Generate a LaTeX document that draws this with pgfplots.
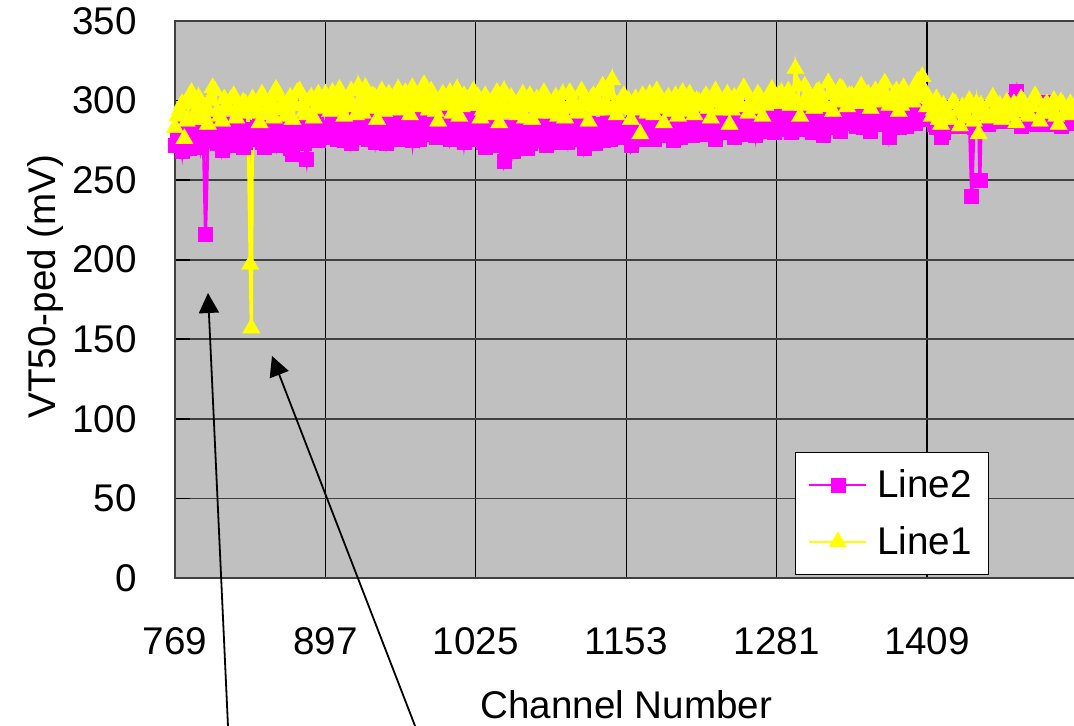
\documentclass[border=0pt]{standalone}
\usepackage{fontspec}
\setmainfont{Liberation Sans}
\usepackage{pgfplots}
\pgfplotsset{compat=1.18}
\usepackage{pgfplotstable}
\usetikzlibrary{arrows.meta}
\definecolor{bg}{RGB}{192,192,192}
\definecolor{mag}{RGB}{255,0,255}
\definecolor{yel}{RGB}{255,255,0}

% columns: channel, Line2, Line1
\pgfplotstableread{
x a b
769 272 283
771 277 290
773 279 294
775 268 298
777 283 276
779 281 287
781 270 299
783 274 305
785 276 288
787 279 293
789 284 302
791 271 289
793 281 291
795 216 296
797 275 285
799 283 300
801 286 308
803 277 306
805 273 293
807 282 290
809 269 287
811 276 301
813 280 297
815 272 294
817 285 301
819 280 303
821 277 289
823 286 292
825 282 295
827 271 299
829 274 298
831 279 293
833 280 197
834 282 157
835 277 301
837 276 292
839 283 295
841 285 286
843 274 304
845 271 300
847 280 291
849 283 296
851 286 299
853 278 289
855 272 307
857 287 303
859 279 296
861 274 294
863 284 290
865 281 299
867 270 302
869 266 288
871 276 297
873 279 305
875 282 306
877 284 297
879 273 293
881 263 291
883 279 300
885 276 302
887 285 289
889 288 295
891 275 304
893 280 300
895 281 296
897 283 304
899 279 299
901 277 293
903 286 305
905 290 298
907 276 294
909 281 307
911 284 302
913 275 290
915 280 297
917 286 301
919 273 306
921 279 296
923 288 291
925 284 309
927 281 300
929 291 292
931 277 308
933 276 299
935 285 295
937 282 303
939 274 302
941 288 288
943 283 298
945 280 306
947 287 293
949 273 297
951 279 304
953 285 301
955 282 299
957 289 294
959 276 307
961 282 299
963 286 295
965 278 305
967 280 301
969 287 291
971 275 308
973 292 302
975 284 296
977 276 297
979 288 303
981 284 310
983 279 299
985 289 294
987 283 306
989 280 300
991 277 293
993 286 287
995 290 301
997 279 304
999 282 297
1001 291 298
1003 276 305
1005 283 292
1007 286 299
1009 277 307
1011 281 290
1013 288 296
1015 274 303
1017 285 301
1019 289 298
1021 281 303
1023 279 306
1025 276 297
1027 281 302
1029 283 289
1031 274 294
1033 271 303
1035 285 299
1037 279 295
1039 272 291
1041 286 300
1043 280 305
1045 273 286
1047 277 297
1049 262 306
1051 269 292
1053 280 293
1055 283 302
1057 268 298
1059 275 296
1061 284 291
1063 279 300
1065 277 304
1067 284 289
1069 270 296
1071 273 303
1073 282 288
1075 280 297
1077 275 301
1079 276 292
1081 287 295
1083 282 305
1085 272 299
1087 278 294
1089 279 292
1091 283 298
1093 285 302
1095 277 290
1097 274 296
1099 286 304
1101 281 289
1103 274 295
1105 288 305
1107 282 300
1109 276 298
1111 279 292
1113 283 293
1115 287 306
1117 270 300
1119 276 297
1121 286 287
1123 281 301
1125 278 303
1127 273 294
1129 284 297
1131 285 306
1133 275 309
1135 280 299
1137 289 294
1139 276 304
1141 280 313
1143 284 297
1145 277 291
1147 282 295
1149 285 301
1151 278 303
1153 282 295
1155 285 300
1157 272 288
1159 279 294
1161 287 301
1163 283 297
1165 279 279
1167 276 303
1169 284 297
1171 287 292
1173 290 304
1175 281 300
1177 276 291
1179 285 306
1181 283 299
1183 278 295
1185 288 286
1187 283 300
1189 280 302
1191 286 293
1193 275 296
1195 280 303
1197 286 290
1199 277 298
1201 281 305
1203 285 296
1205 289 293
1207 282 304
1209 278 298
1211 288 291
1213 284 300
1215 279 299
1217 286 297
1219 282 301
1221 280 303
1223 288 295
1225 291 289
1227 279 299
1229 276 306
1231 285 303
1233 284 294
1235 280 296
1237 288 300
1239 286 304
1241 282 285
1243 283 294
1245 277 302
1247 289 300
1249 290 298
1251 281 296
1253 285 308
1255 287 305
1257 279 292
1259 284 299
1261 287 299
1263 278 295
1265 292 304
1267 286 302
1269 283 290
1271 290 297
1273 281 301
1275 284 303
1277 289 307
1279 280 298
1281 284 299
1283 288 303
1285 290 305
1287 282 298
1289 287 302
1291 289 306
1293 280 297
1295 285 301
1297 293 320
1299 283 309
1301 286 290
1303 291 297
1305 282 309
1307 285 303
1309 289 300
1311 280 299
1313 284 295
1315 287 305
1317 291 306
1319 284 300
1321 278 298
1323 290 296
1325 288 311
1327 283 304
1329 294 293
1331 288 299
1333 285 302
1335 281 308
1337 290 307
1339 292 301
1341 287 296
1343 286 303
1345 289 303
1347 286 300
1349 284 298
1351 290 305
1353 292 309
1355 283 298
1357 287 301
1359 288 304
1361 281 295
1363 291 301
1365 295 306
1367 285 299
1369 290 300
1371 289 307
1373 286 311
1375 292 302
1377 277 297
1379 284 300
1381 288 304
1383 290 306
1385 283 293
1387 287 297
1389 296 308
1391 284 305
1393 291 302
1395 293 300
1397 289 299
1399 286 308
1401 294 312
1403 290 303
1405 292 315
1407 294 306
1409 288 296
1411 292 301
1413 293 290
1415 285 294
1417 283 301
1419 290 288
1421 277 285
1423 280 297
1425 291 293
1427 288 291
1429 286 288
1431 293 299
1433 294 298
1435 284 293
1437 289 284
1439 291 296
1441 284 292
1443 287 289
1445 290 300
1447 240 295
1449 283 287
1451 291 298
1453 288 279
1454 250 291
1455 286 297
1457 292 294
1459 289 292
1461 285 289
1463 294 299
1465 296 302
1467 287 295
1469 289 291
1471 292 297
1473 291 288
1475 289 295
1477 287 299
1479 293 290
1481 297 293
1483 300 298
1485 306 286
1487 290 293
1489 284 301
1491 287 299
1493 290 295
1495 293 291
1497 286 290
1499 289 296
1501 293 303
1503 285 300
1505 288 287
1507 294 292
1509 299 296
1511 290 298
1513 285 292
1515 287 294
1517 292 300
1519 295 290
1521 289 285
1523 284 299
1525 295 297
1527 292 293
1529 287 291
1531 286 298
1533 291 294
1535 290 295
}\chdata

\begin{document}
\begin{tikzpicture}[font=\fontsize{19.3pt}{23pt}\selectfont]
\begin{axis}[
  scale only axis,
  width=451.2pt, height=278.5pt,
  xmin=769, xmax=1537, ymin=0, ymax=350,
  clip=false,
  xtick={769,897,1025,1153,1281,1409},
  ytick={0,50,100,150,200,250,300,350},
  /pgf/number format/assume math mode=true,
  /pgf/number format/1000 sep={},
  tick pos=left,
  major tick length=7.5pt,
  xtick style={draw=none},
  ytick style={draw=black, line width=0.8pt},
  grid=major,
  x grid style={black, line width=0.6pt},
  y grid style={black!75, line width=0.8pt},
  axis line style={draw=black!75, line width=0.8pt},
  axis background/.style={fill=bg},
  xticklabel style={anchor=north, inner sep=0pt, yshift=-24.5pt},
  yticklabel style={anchor=east, inner sep=0pt, xshift=-19pt},
  xlabel={Channel Number},
  ylabel={VT50-ped (mV)},
  xlabel style={at={(axis description cs:0.5,-0.2531)}, anchor=base, inner sep=0pt},
  ylabel style={at={(axis description cs:-0.1319,0.5233)}, anchor=base, rotate=0, inner sep=0pt},
  legend style={at={(axis description cs:0.687,0.0054)}, anchor=south west,
    draw=black, fill=white, line width=0.6pt,
    inner xsep=6.5pt, inner ysep=6.5pt, row sep=9pt, column sep=3pt,
    nodes={inner sep=2pt, text depth=0.15em},
    font=\fontsize{19.3pt}{23pt}\selectfont},
  legend cell align=left,
  legend image code/.code={%
    \draw[mark repeat=2,mark phase=2,line width=0.8pt] plot coordinates {(0pt,0pt) (14.25pt,0pt) (28.5pt,0pt)};},
]
\addplot[color=mag, line width=1.6pt, mark=square*, mark size=3.5pt,
  mark options={solid, fill=mag, draw=mag, line width=0.2pt}] table[x=x, y=a] {\chdata};
\addplot[color=yel, line width=1.6pt, mark=triangle*, mark size=5pt,
  mark options={solid, fill=yel, draw=yel, line width=0.2pt}] table[x=x, y=b] {\chdata};
\legend{Line2, Line1}
\end{axis}
\draw[black, line width=0.9pt, -{Triangle[width=10pt,length=10pt]}] (27pt,-85pt) -- (16.5pt,142.5pt);
\draw[black, line width=0.9pt, -{Triangle[width=10pt,length=10pt]}] (123.9pt,-84pt) -- (48.5pt,111pt);
\pgfresetboundingbox
\useasboundingbox (-87.5pt,-74pt) rectangle (449.5pt,289pt);
\end{tikzpicture}
\end{document}
